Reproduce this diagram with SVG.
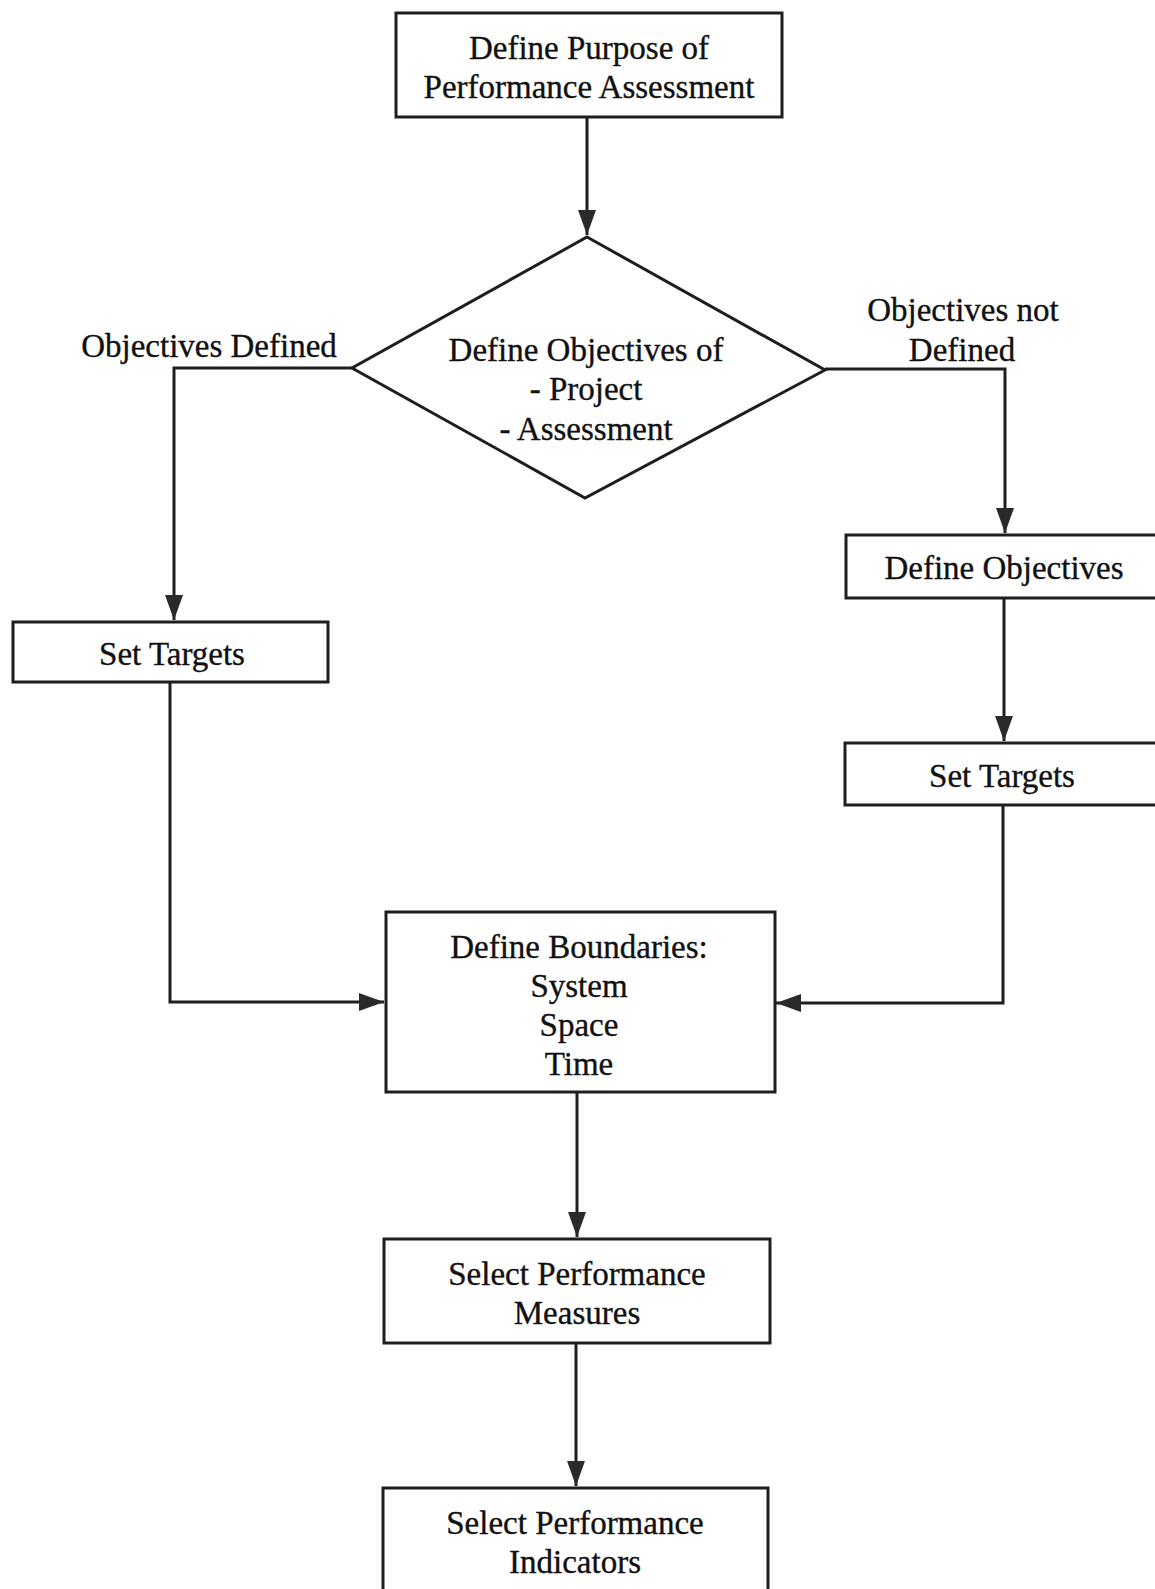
<svg xmlns="http://www.w3.org/2000/svg" width="1155" height="1589" viewBox="0 0 1155 1589">
<style>
.box{fill:#fff;stroke:#1e1e1e;stroke-width:3}
.t{font-family:"Liberation Serif","Times New Roman",serif;font-size:33px;fill:#111;stroke:#111;stroke-width:0.35;text-anchor:middle}
.c{fill:none;stroke:#1e1e1e;stroke-width:3}
</style>
<defs>
<marker id="arr" markerUnits="userSpaceOnUse" markerWidth="28" markerHeight="20" refX="25" refY="9" orient="auto">
<path d="M0,0 L25,9 L0,18 Z" fill="#2a2a2a"/>
</marker>
</defs>
<rect width="1155" height="1589" fill="#fff"/>
<g id="connectors">
<path class="c" d="M587,117 V235" marker-end="url(#arr)"/>
<path class="c" d="M352,368 H174 V620" marker-end="url(#arr)"/>
<path class="c" d="M825,369 H1005 V533" marker-end="url(#arr)"/>
<path class="c" d="M1004,598 V741" marker-end="url(#arr)"/>
<path class="c" d="M170,682 V1002 H384" marker-end="url(#arr)"/>
<path class="c" d="M1003,805 V1003 H776" marker-end="url(#arr)"/>
<path class="c" d="M577,1092 V1237" marker-end="url(#arr)"/>
<path class="c" d="M576,1343 V1486" marker-end="url(#arr)"/>
</g>
<g id="n-purpose">
<rect class="box" x="396" y="13" width="386" height="104"/>
<text class="t" x="589" y="59">Define Purpose of</text>
<text class="t" x="589" y="98">Performance Assessment</text>
</g>
<g id="n-decision">
<polygon class="box" points="587,237 825,370 585,498 352,368"/>
<text class="t" x="586" y="361">Define Objectives of</text>
<text class="t" x="586" y="400">- Project</text>
<text class="t" x="586" y="440">- Assessment</text>
</g>
<g id="lbl-defined">
<text class="t" x="209" y="357">Objectives Defined</text>
</g>
<g id="lbl-notdefined">
<text class="t" x="963" y="321">Objectives not</text>
<text class="t" x="962" y="361">Defined</text>
</g>
<g id="n-define-objectives">
<rect class="box" x="846" y="535" width="330" height="63"/>
<text class="t" x="1004" y="579">Define Objectives</text>
</g>
<g id="n-set-targets-right">
<rect class="box" x="845" y="743" width="330" height="62"/>
<text class="t" x="1002" y="787">Set Targets</text>
</g>
<g id="n-set-targets-left">
<rect class="box" x="13" y="622" width="315" height="60"/>
<text class="t" x="172" y="665">Set Targets</text>
</g>
<g id="n-boundaries">
<rect class="box" x="386" y="912" width="389" height="180"/>
<text class="t" x="579" y="958">Define Boundaries:</text>
<text class="t" x="579" y="997">System</text>
<text class="t" x="579" y="1036">Space</text>
<text class="t" x="579" y="1075">Time</text>
</g>
<g id="n-measures">
<rect class="box" x="384" y="1239" width="386" height="104"/>
<text class="t" x="577" y="1285">Select Performance</text>
<text class="t" x="577" y="1324">Measures</text>
</g>
<g id="n-indicators">
<rect class="box" x="383" y="1488" width="385" height="130"/>
<text class="t" x="575" y="1534">Select Performance</text>
<text class="t" x="575" y="1573">Indicators</text>
</g>
</svg>
